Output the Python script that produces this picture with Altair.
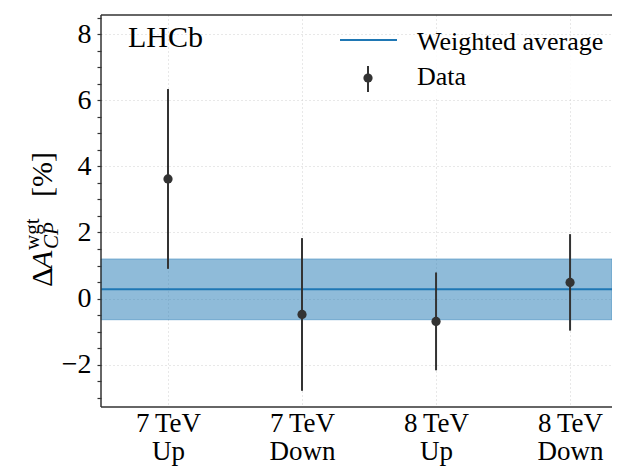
import json
import altair as alt
import pandas as pd

# ---- data ----
labels_top = ["7\u2009TeV", "7\u2009TeV", "8\u2009TeV", "8\u2009TeV"]
labels_bottom = ["Up", "Down", "Up", "Down"]
values = [3.62, -0.48, -0.69, 0.49]
errors = [2.72, 2.31, 1.48, 1.46]
avg_value = 0.28
avg_error = 0.92
y_ticks = [i * 0.5 for i in range(-6, 18)]

W, H = 511, 392
FONT = "Liberation Serif"
DARK = "#333333"
BLUE = "#1f77b4"

df = pd.DataFrame({
    "idx": list(range(len(values))),
    "val": values,
    "lo": [v - e for v, e in zip(values, errors)],
    "hi": [v + e for v, e in zip(values, errors)],
})
avg_df = pd.DataFrame({"avg": [avg_value], "lo": [avg_value - avg_error], "hi": [avg_value + avg_error]})
one = pd.DataFrame({"a": [0]})

label_expr = "[" + ",".join(json.dumps([t, b], ensure_ascii=False) for t, b in zip(labels_top, labels_bottom)) + "][datum.value]"

xscale = alt.Scale(domain=[-0.5, 3.313], nice=False, zero=False)
yscale = alt.Scale(domain=[-3.28, 8.58], nice=False, zero=False)

is_major = "abs(datum.value - 2 * round(datum.value / 2)) < 0.01"

xaxis = alt.Axis(values=list(range(len(values))), labelExpr=label_expr, ticks=False, domain=False,
                 grid=True, gridDash=[1, 3], gridColor="#d0d0d0", gridWidth=1,
                 labelFont=FONT, labelFontSize=27, labelColor="black", labelLineHeight=28,
                 labelPadding=3, labelAngle=0, labelOverlap=False, title=None)
yaxis = alt.Axis(values=y_ticks, labelExpr=is_major + " ? format(datum.value, 'd') : ''",
                 domain=False, ticks=True, tickSize=4, tickColor=DARK, tickWidth=1.2,
                 grid=True, gridDash=[1, 3], gridColor="#d0d0d0", gridWidth=1,
                 gridOpacity={"condition": {"test": is_major, "value": 1}, "value": 0},
                 labelOverlap=False, labelFont=FONT, labelFontSize=28, labelColor="black",
                 labelPadding=6, title=None)

band = alt.Chart(avg_df).mark_rect(fill=BLUE, fillOpacity=0.5, stroke=BLUE, strokeOpacity=0.45, strokeWidth=1).encode(
    y=alt.Y("lo:Q", scale=yscale, axis=yaxis), y2="hi:Q", x=alt.value(0), x2=alt.value(W))
avg_line = alt.Chart(avg_df).mark_rule(color=BLUE, strokeWidth=2).encode(
    y=alt.Y("avg:Q", scale=yscale, axis=yaxis), x=alt.value(0), x2=alt.value(W))
bars = alt.Chart(df).mark_rule(color=DARK, strokeWidth=2).encode(
    x=alt.X("idx:Q", scale=xscale, axis=xaxis), y=alt.Y("lo:Q", scale=yscale, axis=yaxis), y2="hi:Q")
points = alt.Chart(df).mark_circle(color=DARK, size=85, opacity=1).encode(
    x=alt.X("idx:Q", scale=xscale, axis=xaxis), y=alt.Y("val:Q", scale=yscale, axis=yaxis))

# frame (left, bottom, top; right side is cut off in the reference)
frame_left = alt.Chart(one).mark_rule(color=DARK, strokeWidth=1.5).encode(x=alt.value(0), y=alt.value(0), y2=alt.value(H))
frame_bottom = alt.Chart(one).mark_rule(color=DARK, strokeWidth=1.5).encode(x=alt.value(0), x2=alt.value(W), y=alt.value(H))
frame_top = alt.Chart(one).mark_rule(color=DARK, strokeWidth=1.5).encode(x=alt.value(0), x2=alt.value(W), y=alt.value(0))

lhcb = alt.Chart(one).mark_text(font=FONT, fontSize=30, align="left", baseline="alphabetic", color="black").encode(
    x=alt.value(27), y=alt.value(32), text=alt.value("LHCb"))

# legend
leg_box = alt.Chart(one).mark_rect(fill="white", opacity=0.85).encode(
    x=alt.value(225), x2=alt.value(W), y=alt.value(21), y2=alt.value(84))
leg_line = alt.Chart(one).mark_rule(color=BLUE, strokeWidth=2).encode(x=alt.value(239), x2=alt.value(296), y=alt.value(25))
leg_bar = alt.Chart(one).mark_rule(color=DARK, strokeWidth=2).encode(x=alt.value(267), y=alt.value(51), y2=alt.value(77))
leg_pt = alt.Chart(one).mark_circle(color=DARK, size=85, opacity=1).encode(x=alt.value(267), y=alt.value(63))
leg_t1 = alt.Chart(one).mark_text(font=FONT, fontSize=26, align="left", baseline="alphabetic", color="black").encode(
    x=alt.value(316), y=alt.value(35), text=alt.value("Weighted average"))
leg_t2 = alt.Chart(one).mark_text(font=FONT, fontSize=26, align="left", baseline="alphabetic", color="black").encode(
    x=alt.value(316), y=alt.value(70), text=alt.value("Data"))

# rotated y-axis title: ΔA_CP^wgt [%]
def rot(txt, x, y, size, style="normal"):
    return alt.Chart(one).mark_text(font=FONT, fontSize=size, fontStyle=style, angle=270, align="left",
                                    baseline="alphabetic", color="black").encode(
        x=alt.value(x), y=alt.value(y), text=alt.value(txt))

t_delta = rot("Δ", -49, 272, 30)
t_A = rot("A", -49, 254, 30, "italic")
t_sub = rot("CP", -43, 234, 21, "italic")
t_sup = rot("wgt", -62, 235, 21)
t_pct = rot("[%]", -49, 182, 30)

chart = alt.layer(
    band, avg_line, bars, points, frame_left, frame_bottom, frame_top, lhcb,
    leg_box, leg_line, leg_bar, leg_pt, leg_t1, leg_t2,
    t_delta, t_A, t_sub, t_sup, t_pct,
).properties(
    width=W, height=H,
    autosize=alt.AutoSizeParams(type="none"),
    padding={"left": 93, "top": 7, "right": 0, "bottom": 60},
).configure_view(stroke=None)

chart.save("out.html", embed_options={"renderer": "svg", "actions": False})
